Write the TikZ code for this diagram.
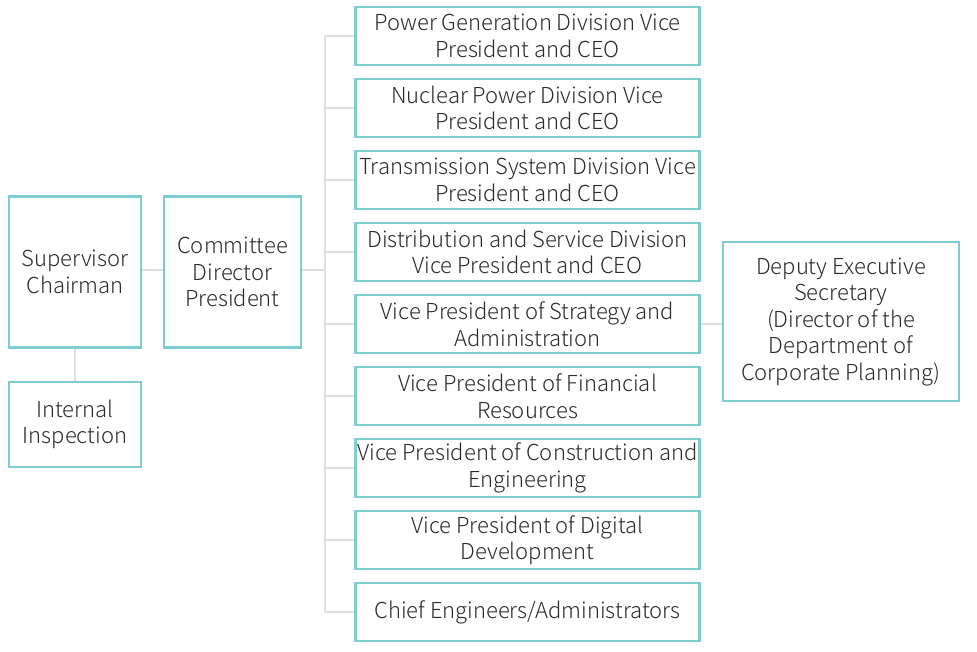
\documentclass[tikz,border=0pt]{standalone}
\usepackage{fontspec}
\setmainfont{Noto Sans CJK KR}[UprightFont={* Light}]
\begin{document}
\begin{tikzpicture}[x=1pt,y=-1pt,
  box/.style={draw=boxc,line width=2.6pt,fill=white,inner sep=0pt,align=center,text=txt,font=\fontsize{22}{26.5}\selectfont},
  conn/.style={draw=linec,line width=2.6pt}]
\definecolor{boxc}{HTML}{7ECDD2}
\definecolor{linec}{HTML}{DEDEDE}
\definecolor{txt}{HTML}{2B2B2B}
\useasboundingbox (0,0) rectangle (977,651);
% nodes
\node[box,minimum width=132pt,minimum height=151pt] (sup) at (75,272) {Supervisor\\Chairman};
\node[box,minimum width=132pt,minimum height=85pt] (ins) at (75,424.5) {Internal\\Inspection};
\node[box,minimum width=137pt,minimum height=151pt] (com) at (232.5,272) {Committee\\Director\\President};
\foreach \i/\t in {1/{Power Generation Division Vice\\President and CEO},
                   2/{Nuclear Power Division Vice\\President and CEO},
                   3/{Transmission System Division Vice\\President and CEO},
                   4/{Distribution and Service Division\\Vice President and CEO},
                   5/{Vice President of Strategy and\\Administration},
                   6/{Vice President of Financial\\Resources},
                   7/{Vice President of Construction and\\Engineering},
                   8/{Vice President of Digital\\Development},
                   9/{Chief Engineers/Administrators}}{
  \node[box,minimum width=344pt,minimum height=58pt] (v\i) at (527.5,{36+72*(\i-1)}) {\t};
}
\node[box,minimum width=236pt,minimum height=159pt] (dep) at (841,321.5) {Deputy Executive\\Secretary\\(Director of the\\Department of\\Corporate Planning)};
\coordinate (t1) at (325,36);
\coordinate (t9) at (325,612);
\coordinate (tc) at (325,270);
% connectors
\draw[conn] (t1) -- (t9);
\foreach \i in {1,...,9}{
  \draw[conn] (325,{36+72*(\i-1)}) -- (v\i.west);
}
\draw[conn] (sup.east |- tc) -- (com.west |- tc);
\draw[conn] (com.east |- tc) -- (tc);
\draw[conn] (sup.south) -- (ins.north);
\draw[conn] (v5.east) -- (dep.west |- v5.east);
\end{tikzpicture}
\end{document}
